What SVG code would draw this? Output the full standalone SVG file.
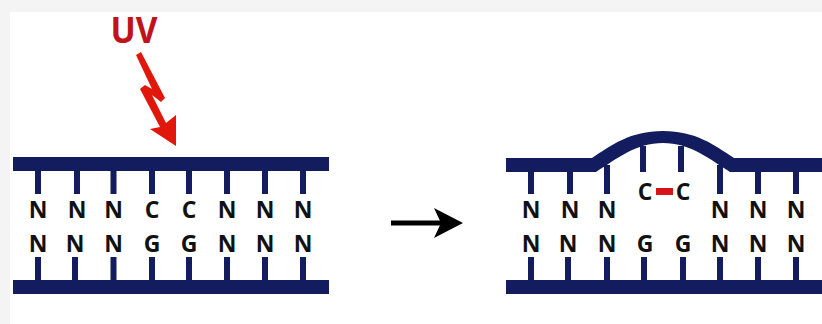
<svg xmlns="http://www.w3.org/2000/svg" width="822" height="324" viewBox="0 0 822 324">
  <style>
    .strand { fill: #121c5e; }
    .tick { stroke: #121c5e; stroke-width: 6; fill: none; }
    .base { font-family: "Open Sans", "Liberation Sans", sans-serif; font-weight: 700; font-size: 23px; fill: #111; text-anchor: middle; }
    .uv { font-family: "Open Sans", "Liberation Sans", sans-serif; font-weight: 700; font-size: 35px; fill: #c1121a; text-anchor: middle; }
  </style>

  <!-- page panel -->
  <rect width="822" height="324" fill="#f4f4f4"/>
  <rect x="10" y="12" width="812" height="312" fill="#ffffff"/>

  <!-- intact duplex -->
  <g id="duplex-before">
    <rect class="strand" x="13" y="157" width="316" height="14"/>
    <rect class="strand" x="13" y="280" width="316" height="14"/>
    <path class="tick" d="M38 171V194M77 171V194M113.500 171V194M152 171V194M189 171V194M227 171V194M265 171V194M303 171V194"/>
    <path class="tick" d="M38 257V280M75 257V280M113.500 257V280M152 257V280M189 257V280M227 257V280M265 257V280M303 257V280"/>
    <text class="base" x="38" y="218">N</text>
    <text class="base" x="77" y="218">N</text>
    <text class="base" x="113.500" y="218">N</text>
    <text class="base" x="152" y="218">C</text>
    <text class="base" x="189" y="218">C</text>
    <text class="base" x="227" y="218">N</text>
    <text class="base" x="265" y="218">N</text>
    <text class="base" x="303" y="218">N</text>
    <text class="base" x="38" y="252">N</text>
    <text class="base" x="75" y="252">N</text>
    <text class="base" x="113.500" y="252">N</text>
    <text class="base" x="152" y="252">G</text>
    <text class="base" x="189" y="252">G</text>
    <text class="base" x="227" y="252">N</text>
    <text class="base" x="265" y="252">N</text>
    <text class="base" x="303" y="252">N</text>
  </g>

  <!-- ultraviolet source -->
  <g id="uv-source">
    <text class="uv" x="134" y="43" textLength="47" lengthAdjust="spacingAndGlyphs">UV</text>
    <polygon points="136,55 141,52 165,98 161,102 152,95 166,123 176,115 176,146 150,129 160,127 140,89 145,85 152,89" fill="#e2170b"/>
  </g>

  <!-- reaction arrow -->
  <g id="connectors">
    <path d="M391 223H442" stroke="#000" stroke-width="5" fill="none"/>
    <polygon points="434,208 463,223 434,238 441,223" fill="#000"/>
  </g>

  <!-- distorted duplex with the C-C lesion -->
  <g id="duplex-after">
    <path class="strand" d="M506 158H592C612 145 630 131 663 131C696 131 714 145 734 158H822V172H730C708 158 690 143 663 143C636 143 618 158 596 172H506Z"/>
    <rect class="strand" x="506" y="280" width="316" height="14"/>
    <path class="tick" d="M531 172V194M570 172V194M607 165V194M643 146V172M681 146V172M720 165V194M758 172V194M796 172V194"/>
    <path class="tick" d="M531 257V280M568 257V280M607 257V280M644 257V280M683 257V280M720 257V280M758 257V280M796 257V280"/>
    <rect x="656" y="188" width="17" height="7" fill="#d8141a"/>
    <text class="base" x="645" y="200">C</text>
    <text class="base" x="683" y="200">C</text>
    <text class="base" x="531" y="218">N</text>
    <text class="base" x="570" y="218">N</text>
    <text class="base" x="607" y="218">N</text>
    <text class="base" x="720" y="218">N</text>
    <text class="base" x="758" y="218">N</text>
    <text class="base" x="796" y="218">N</text>
    <text class="base" x="531" y="252">N</text>
    <text class="base" x="568" y="252">N</text>
    <text class="base" x="607" y="252">N</text>
    <text class="base" x="645" y="252">G</text>
    <text class="base" x="683" y="252">G</text>
    <text class="base" x="720" y="252">N</text>
    <text class="base" x="758" y="252">N</text>
    <text class="base" x="796" y="252">N</text>
  </g>
</svg>
